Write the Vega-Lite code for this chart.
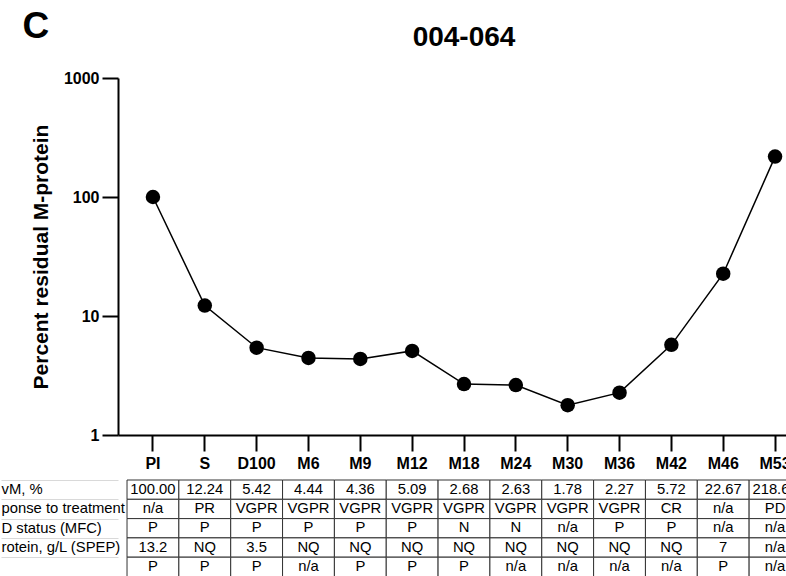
{
  "$schema": "https://vega.github.io/schema/vega-lite/v6.json",
  "padding": {"left": 0, "top": 8, "right": 0, "bottom": 0},
  "title": {"text": "C", "anchor": "start", "fontSize": 37, "fontWeight": "bold", "dx": 22, "dy": -8, "offset": -30, "color": "black"},
  "datasets": {
    "tp": [
      {"tp": "PI", "pct": 100.00, "resp": "n/a", "mrd": "P", "spep": "13.2", "ife": "P"},
      {"tp": "S", "pct": 12.24, "resp": "PR", "mrd": "P", "spep": "NQ", "ife": "P"},
      {"tp": "D100", "pct": 5.42, "resp": "VGPR", "mrd": "P", "spep": "3.5", "ife": "P"},
      {"tp": "M6", "pct": 4.44, "resp": "VGPR", "mrd": "P", "spep": "NQ", "ife": "n/a"},
      {"tp": "M9", "pct": 4.36, "resp": "VGPR", "mrd": "P", "spep": "NQ", "ife": "P"},
      {"tp": "M12", "pct": 5.09, "resp": "VGPR", "mrd": "P", "spep": "NQ", "ife": "P"},
      {"tp": "M18", "pct": 2.68, "resp": "VGPR", "mrd": "N", "spep": "NQ", "ife": "P"},
      {"tp": "M24", "pct": 2.63, "resp": "VGPR", "mrd": "N", "spep": "NQ", "ife": "n/a"},
      {"tp": "M30", "pct": 1.78, "resp": "VGPR", "mrd": "n/a", "spep": "NQ", "ife": "n/a"},
      {"tp": "M36", "pct": 2.27, "resp": "VGPR", "mrd": "P", "spep": "NQ", "ife": "n/a"},
      {"tp": "M42", "pct": 5.72, "resp": "CR", "mrd": "P", "spep": "NQ", "ife": "n/a"},
      {"tp": "M46", "pct": 22.67, "resp": "n/a", "mrd": "n/a", "spep": "7", "ife": "P"},
      {"tp": "M53", "pct": 218.6, "resp": "PD", "mrd": "n/a", "spep": "n/a", "ife": "n/a"}
    ]
  },
  "spacing": 1,
  "vconcat": [
    {
      "width": 692,
      "height": 357,
      "title": {"text": "004-064", "fontSize": 28, "fontWeight": "bold", "anchor": "middle", "frame": "group", "offset": 18, "color": "black"},
      "data": {"name": "tp"},
      "encoding": {
        "x": {
          "field": "tp", "type": "nominal", "sort": null,
          "scale": {"type": "band", "paddingInner": 0, "paddingOuter": 0.174},
          "axis": {"title": null, "labelAngle": 0, "labelFontSize": 16, "labelFontWeight": "bold", "labelColor": "black", "labelPadding": 4, "tickSize": 16, "tickWidth": 2, "tickColor": "black", "domainWidth": 2, "domainColor": "black"}
        },
        "y": {
          "field": "pct", "type": "quantitative",
          "scale": {"type": "log", "domain": [1, 1000], "nice": false},
          "axis": {"title": "Percent residual M-protein", "titleFontSize": 21, "titleFontWeight": "bold", "titleColor": "black", "titlePadding": 12, "values": [1, 10, 100, 1000], "format": "d", "labelFontSize": 16, "labelFontWeight": "bold", "labelColor": "black", "labelPadding": 3, "tickSize": 16, "tickWidth": 2, "tickColor": "black", "domainWidth": 2, "domainColor": "black"}
        }
      },
      "layer": [
        {"mark": {"type": "line", "color": "black", "strokeWidth": 1.5}},
        {"mark": {"type": "point", "filled": true, "color": "black", "size": 210, "opacity": 1}}
      ]
    },
    {
      "width": 692,
      "height": 96.5,
      "data": {"name": "tp"},
      "encoding": {
        "x": {
          "field": "tp", "type": "nominal", "sort": null,
          "scale": {"type": "band", "paddingInner": 0, "paddingOuter": 0.174},
          "axis": null
        }
      },
      "layer": [
        {
          "transform": [{"fold": ["pct", "resp", "mrd", "spep", "ife"], "as": ["row", "val"]}],
          "mark": {"type": "rect", "fill": "white", "stroke": "#333", "strokeWidth": 1},
          "encoding": {
            "y": {
              "field": "row", "type": "nominal",
              "scale": {"type": "band", "domain": ["pct", "resp", "mrd", "spep", "ife"], "paddingInner": 0, "paddingOuter": 0},
              "axis": {"title": null, "domain": false, "ticks": true, "tickBand": "extent", "tickSize": 117, "tickColor": "#d9d9d9", "tickWidth": 1, "grid": false, "labelAlign": "left", "labelBaseline": "middle", "labelPadding": 0, "labelFontSize": 14.8, "labelColor": "black", "labelExpr": "datum.value == 'pct' ? 'vM, %' : datum.value == 'resp' ? 'ponse to treatment' : datum.value == 'mrd' ? 'D status (MFC)' : datum.value == 'spep' ? 'rotein, g/L (SPEP)' : ''"}
            }
          }
        },
        {
          "mark": {"type": "text", "fontSize": 14.8, "color": "black", "baseline": "middle"},
          "encoding": {
            "y": {"datum": "pct", "type": "nominal"},
            "text": {"field": "pct", "type": "quantitative", "format": ".2f"}
          }
        },
        {
          "transform": [{"fold": ["resp", "mrd", "spep", "ife"], "as": ["row", "val"]}],
          "mark": {"type": "text", "fontSize": 14.8, "color": "black", "baseline": "middle"},
          "encoding": {
            "y": {"field": "row", "type": "nominal"},
            "text": {"field": "val", "type": "nominal"}
          }
        }
      ]
    }
  ],
  "config": {
    "font": "Liberation Sans",
    "view": {"stroke": null},
    "axis": {"grid": false}
  }
}
